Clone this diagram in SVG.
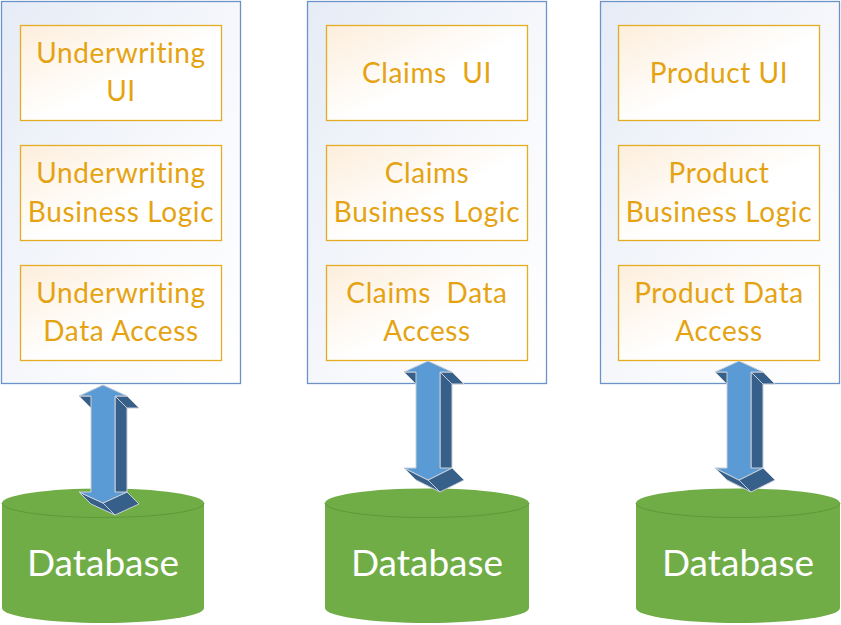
<svg xmlns="http://www.w3.org/2000/svg" width="841" height="625" viewBox="0 0 841 625">
<defs>
<linearGradient id="gCont" x1="0" y1="0" x2="1" y2="1">
<stop offset="0" stop-color="#E6ECF6"/><stop offset="0.6" stop-color="#F8F9FC"/><stop offset="1" stop-color="#FFFFFF"/>
</linearGradient>
<linearGradient id="gBox" x1="0" y1="0" x2="1" y2="1">
<stop offset="0" stop-color="#FDEEDC"/><stop offset="0.55" stop-color="#FFFFFF"/><stop offset="1" stop-color="#FFFFFF"/>
</linearGradient>
<style>
.cont{fill:url(#gCont);stroke:#6B93C8;stroke-width:1.3}
.box{fill:url(#gBox);stroke:#E4AC22;stroke-width:1.3}
.lbl{font-family:Lato,"Liberation Sans",sans-serif;font-size:28px;fill:#E5A312;text-anchor:middle;letter-spacing:0.6px}
.db{fill:#70AD47}
.dbline{fill:none;stroke:#5F9939;stroke-width:1}
.dbt{font-family:Lato,"Liberation Sans",sans-serif;font-size:37px;fill:#FFFFFF;text-anchor:middle}
.af{fill:#5B9BD5;stroke:#C9CED6;stroke-width:1;stroke-linejoin:round}
.ad{fill:#36608A;stroke:#C9CED6;stroke-width:1;stroke-linejoin:round}
</style>
</defs>

<g id="underwriting-service">
<rect class="cont" x="1.5" y="1.5" width="239" height="382"/>
</g>
<g id="underwriting-ui">
<rect class="box" x="20.5" y="25.5" width="201" height="95"/>
<text class="lbl" x="121" y="63">Underwriting</text>
<text class="lbl" x="121" y="101">UI</text>
</g>
<g id="underwriting-logic">
<rect class="box" x="20.5" y="145.5" width="201" height="95"/>
<text class="lbl" x="121" y="183">Underwriting</text>
<text class="lbl" x="121" y="222">Business Logic</text>
</g>
<g id="underwriting-data">
<rect class="box" x="20.5" y="265.5" width="201" height="95"/>
<text class="lbl" x="121" y="303">Underwriting</text>
<text class="lbl" x="121" y="341">Data Access</text>
</g>

<g id="claims-service">
<rect class="cont" x="307.5" y="1.5" width="239" height="382"/>
</g>
<g id="claims-ui">
<rect class="box" x="326.5" y="25.5" width="201" height="95"/>
<text class="lbl" x="427" y="83" xml:space="preserve">Claims  UI</text>
</g>
<g id="claims-logic">
<rect class="box" x="326.5" y="145.5" width="201" height="95"/>
<text class="lbl" x="427" y="183">Claims</text>
<text class="lbl" x="427" y="222">Business Logic</text>
</g>
<g id="claims-data">
<rect class="box" x="326.5" y="265.5" width="201" height="95"/>
<text class="lbl" x="427" y="303" xml:space="preserve">Claims  Data</text>
<text class="lbl" x="427" y="341">Access</text>
</g>

<g id="product-service">
<rect class="cont" x="600.5" y="1.5" width="239" height="382"/>
</g>
<g id="product-ui">
<rect class="box" x="618.5" y="25.5" width="201" height="95"/>
<text class="lbl" x="719" y="83">Product UI</text>
</g>
<g id="product-logic">
<rect class="box" x="618.5" y="145.5" width="201" height="95"/>
<text class="lbl" x="719" y="183">Product</text>
<text class="lbl" x="719" y="222">Business Logic</text>
</g>
<g id="product-data">
<rect class="box" x="618.5" y="265.5" width="201" height="95"/>
<text class="lbl" x="719" y="303">Product Data</text>
<text class="lbl" x="719" y="341">Access</text>
</g>

<g id="db-underwriting">
<path class="db" d="M2,503 A101,14.5 0 0 1 204,503 L204,608 A101,15 0 0 1 2,608 Z"/>
<path class="dbline" d="M2,503 A101,14.5 0 0 0 204,503"/>
<text class="dbt" x="103" y="576">Database</text>
</g>
<g id="db-claims">
<path class="db" d="M325,503 A102,14.5 0 0 1 529,503 L529,608 A102,15 0 0 1 325,608 Z"/>
<path class="dbline" d="M325,503 A102,14.5 0 0 0 529,503"/>
<text class="dbt" x="427" y="576">Database</text>
</g>
<g id="db-product">
<path class="db" d="M636,503 A102,14.5 0 0 1 840,503 L840,608 A102,15 0 0 1 636,608 Z"/>
<path class="dbline" d="M636,503 A102,14.5 0 0 0 840,503"/>
<text class="dbt" x="738" y="576">Database</text>
</g>

<g id="connectors">
<g id="arrow-underwriting">
<path class="ad" d="M115,396 L127,396 L139,408 L127,408 Z"/>
<path class="ad" d="M115,396 L127,408 L127,504 L115,492 Z"/>
<path class="ad" d="M91,396 L79,396 L91,408 L103,408 Z"/>
<path class="ad" d="M127,492 L103,503 L115,515 L139,504 Z"/>
<path class="ad" d="M103,503 L79,492 L91,504 L115,515 Z"/>
<path class="af" d="M103,385 L127,396 L115,396 L115,492 L127,492 L103,503 L79,492 L91,492 L91,396 L79,396 Z"/>
</g>
<g id="arrow-claims">
<path class="ad" d="M440,372 L452,372 L464,384 L452,384 Z"/>
<path class="ad" d="M440,372 L452,384 L452,480 L440,468 Z"/>
<path class="ad" d="M416,372 L404,372 L416,384 L428,384 Z"/>
<path class="ad" d="M452,468 L428,480 L440,492 L464,480 Z"/>
<path class="ad" d="M428,480 L404,468 L416,480 L440,492 Z"/>
<path class="af" d="M428,361 L452,372 L440,372 L440,468 L452,468 L428,480 L404,468 L416,468 L416,372 L404,372 Z"/>
</g>
<g id="arrow-product">
<path class="ad" d="M751,372 L763,372 L775,384 L763,384 Z"/>
<path class="ad" d="M751,372 L763,384 L763,480 L751,468 Z"/>
<path class="ad" d="M727,372 L715,372 L727,384 L739,384 Z"/>
<path class="ad" d="M763,468 L739,480 L751,492 L775,480 Z"/>
<path class="ad" d="M739,480 L715,468 L727,480 L751,492 Z"/>
<path class="af" d="M739,361 L763,372 L751,372 L751,468 L763,468 L739,480 L715,468 L727,468 L727,372 L715,372 Z"/>
</g>
</g>
</svg>
